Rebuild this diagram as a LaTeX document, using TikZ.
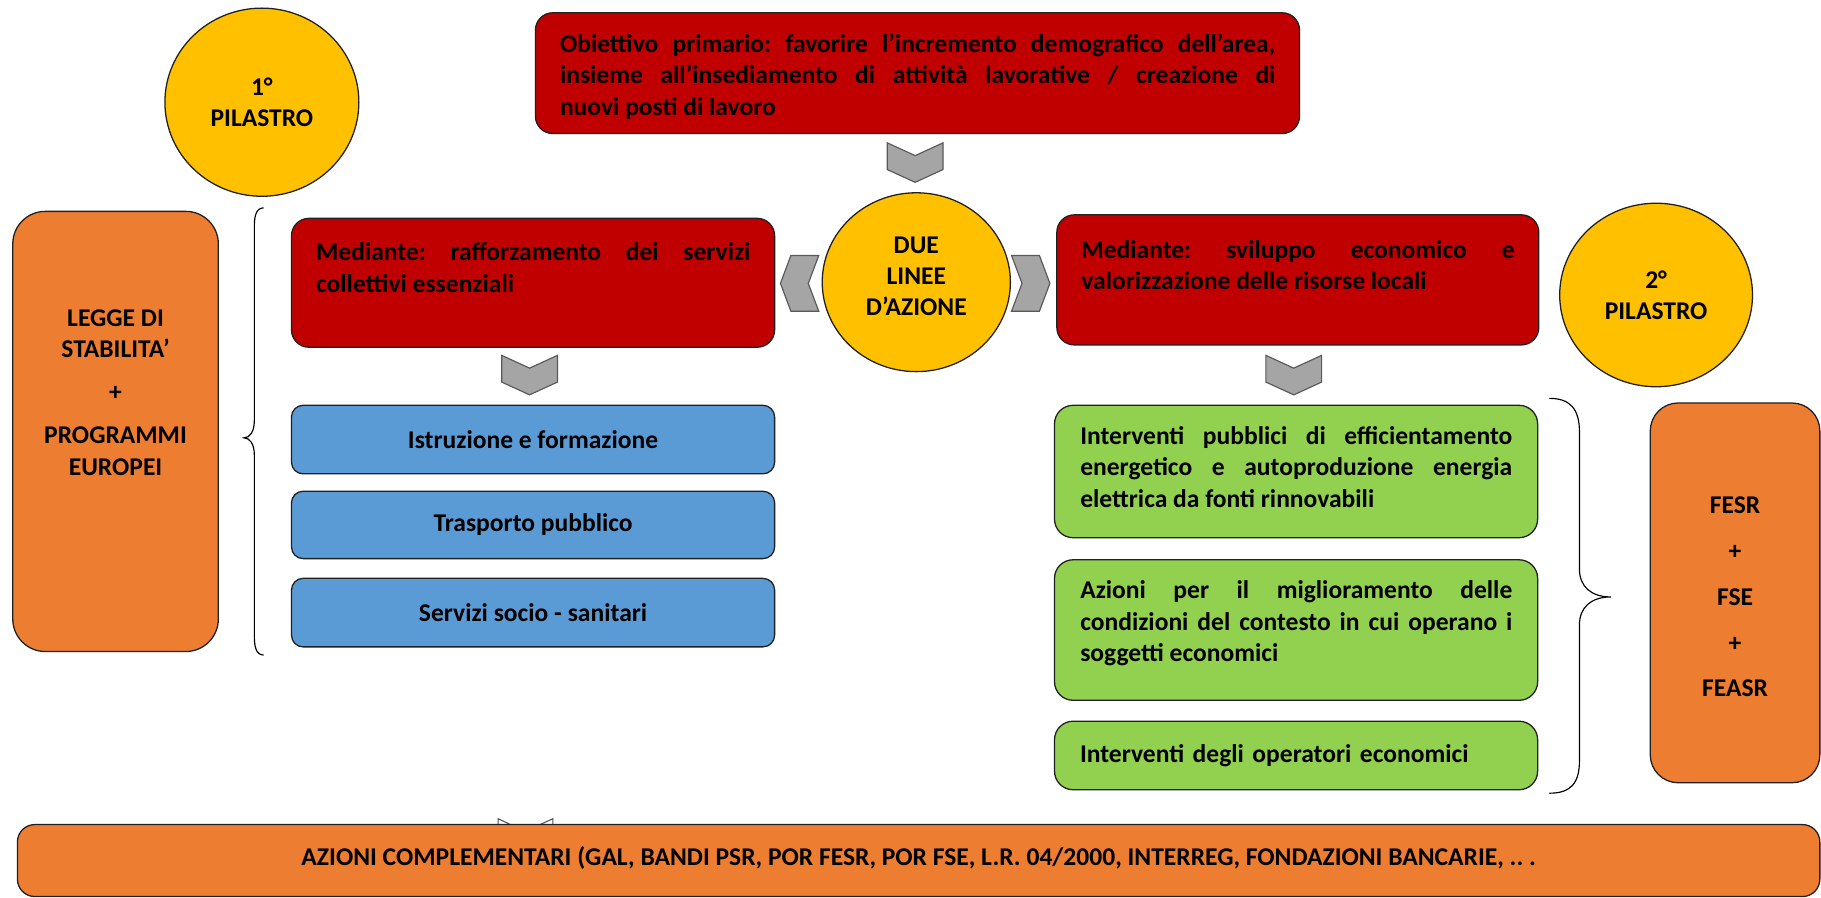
\documentclass[tikz,border=0pt]{standalone}
\usepackage{fontspec}
\setmainfont{Carlito}
\usetikzlibrary{shapes.geometric}
\definecolor{cred}{HTML}{C00000}
\definecolor{corange}{HTML}{ED7D31}
\definecolor{cyellow}{HTML}{FFC000}
\definecolor{cblue}{HTML}{5B9BD5}
\definecolor{cgreen}{HTML}{92D050}
\definecolor{cgray}{HTML}{A5A5A5}
\definecolor{cline}{HTML}{202020}
\hyphenpenalty=10000
\exhyphenpenalty=10000
\tolerance=10000
\frenchspacing
\begin{document}
\begin{tikzpicture}[x=1pt,y=-1pt,
  every node/.style={font=\fontsize{22}{27}\selectfont\bfseries\frenchspacing, text=black},
  shp/.style={draw=cline, line width=1.1pt, inner sep=0pt, outer sep=0pt},
  boxnw/.style={shp, rectangle, anchor=north west},
  redbox/.style={boxnw, fill=cred, rounded corners=15pt},
  bluebox/.style={boxnw, fill=cblue, rounded corners=10pt, align=center},
  greenbox/.style={boxnw, fill=cgreen, rounded corners=16pt},
  orangebox/.style={boxnw, fill=corange, rounded corners=#1},
  ybubble/.style={shp, ellipse, fill=cyellow, align=center},
  jtext/.style={anchor=north west, inner sep=0pt, align=justify},
  ctext/.style={inner sep=0pt, align=center},
  chev/.style={fill=cgray, draw=black!65, line width=1pt, line join=miter},
  chevghost/.style={fill=white, draw=black!70, line width=0.9pt},
  brace/.style={draw=black, line width=1pt}
]
\useasboundingbox (0,0) rectangle (1568,773);

% ---------- top objective ----------
\node[redbox, minimum width=658, minimum height=104] (top) at (461,11) {};
\node[jtext, text width=616] (topT) at (482,29)
  {Obiettivo primario: favorire l’incremento demografico dell’area,\linebreak
   insieme all’insediamento di attività lavorative / creazione di\linebreak
   nuovi posti di lavoro};

% ---------- pillars ----------
\node[ybubble, minimum width=167, minimum height=162] (p1) at (225.5,88) {1°\\PILASTRO};
\node[ybubble, minimum width=166, minimum height=158] (p2) at (1426,254) {2°\\PILASTRO};

% ---------- due linee ----------
\node[ybubble, minimum width=162, minimum height=154] (due) at (789,243) {};
\node[ctext] (dueT) at (789,238) {DUE\\LINEE\\D’AZIONE};

% ---------- red boxes ----------
\node[redbox, minimum width=416, minimum height=111] (left) at (251,188) {};
\node[jtext, text width=374] (leftT) at (272,209)
  {Mediante: rafforzamento dei servizi\linebreak collettivi essenziali};
\node[redbox, minimum width=415, minimum height=112] (right) at (910,185) {};
\node[jtext, text width=373] (rightT) at (931,207)
  {Mediante: sviluppo economico e\linebreak valorizzazione delle risorse locali};

% ---------- blue boxes ----------
\node[bluebox, minimum width=416, minimum height=59] (b1) at (251,349) {Istruzione e formazione};
\node[bluebox, minimum width=416, minimum height=58] (b2) at (251,423) {Trasporto pubblico};
\node[bluebox, minimum width=416, minimum height=59] (b3) at (251,498) {Servizi socio - sanitari};

% ---------- green boxes ----------
\node[greenbox, minimum width=416, minimum height=114] (g1) at (908,349) {};
\node[jtext, text width=372] (g1T) at (930,367)
  {Interventi pubblici di efficientamento\linebreak
   energetico e autoproduzione energia\linebreak
   elettrica da fonti rinnovabili};
\node[greenbox, minimum width=416, minimum height=121] (g2) at (908,482) {};
\node[jtext, text width=372] (g2T) at (930,500)
  {Azioni per il miglioramento delle\linebreak
   condizioni del contesto in cui operano i\linebreak
   soggetti economici};
\node[greenbox, minimum width=416, minimum height=59, text width=372, inner xsep=22pt, align=left] (g3) at (908,621)
  {Interventi degli operatori economici};

% ---------- orange side boxes ----------
\node[orangebox=28pt, minimum width=177, minimum height=379] (o1) at (11,182) {};
\node[ctext] (o1T) at (99.5,338)
  {LEGGE DI\\STABILITA’\\[10pt]+\\[10pt]PROGRAMMI\\EUROPEI};
\node[orangebox=24pt, minimum width=146, minimum height=327] (o2) at (1421,347) {};
\node[ctext] (o2T) at (1494,514)
  {FESR\\[12.5pt]+\\[12.5pt]FSE\\[12.5pt]+\\[12.5pt]FEASR};

% ---------- chevrons ----------
\draw[chev] (764,123) -- (788,134) -- (812,123) -- (812,146) -- (788,157) -- (764,146) -- cycle;
\draw[chev] (432,306) -- (456,317) -- (480,306) -- (480,329) -- (456,340) -- (432,329) -- cycle;
\draw[chev] (1090,306) -- (1114,317) -- (1138,306) -- (1138,329) -- (1114,340) -- (1090,329) -- cycle;
\draw[chev] (681,220) -- (705,220) -- (696,244) -- (705,268) -- (681,268) -- (672,244) -- cycle;
\draw[chev] (895,220) -- (871,220) -- (880,244) -- (871,268) -- (895,268) -- (904,244) -- cycle;
\draw[chevghost] (429,705) -- (452,716) -- (476,705) -- (476,728) -- (452,739) -- (429,728) -- cycle;

% ---------- braces ----------
\draw[brace] (227,179) .. controls (221,179) and (219,185) .. (219,195) -- (219,362)
  .. controls (219,372) and (215,377) .. (210,377)
  .. controls (215,377) and (219,382) .. (219,392) -- (219,548)
  .. controls (219,558) and (221,564) .. (227,564);
\draw[brace] (1334,343) .. controls (1352,343) and (1360,352) .. (1360,372) -- (1360,490)
  .. controls (1360,505) and (1370,514) .. (1387,514)
  .. controls (1370,514) and (1360,523) .. (1360,538) -- (1360,655)
  .. controls (1360,675) and (1352,683) .. (1334,683);

% ---------- bottom box ----------
\node[orangebox=15pt, minimum width=1552, minimum height=62] (bot) at (15,710) {};
\node[ctext] (botT) at ([yshift=2pt]bot.center)
  {AZIONI COMPLEMENTARI (GAL, BANDI PSR, POR FESR, POR FSE, L.R. 04/2000, INTERREG, FONDAZIONI BANCARIE, .. .};
\end{tikzpicture}
\end{document}
